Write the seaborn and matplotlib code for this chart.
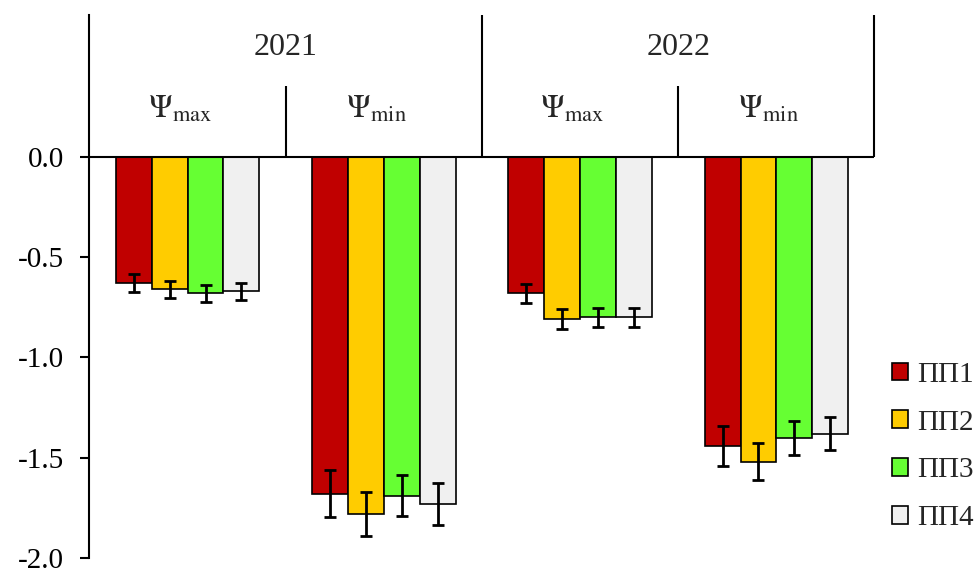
import matplotlib
matplotlib.use("Agg")
import matplotlib.pyplot as plt
from matplotlib.ticker import FormatStrFormatter
import numpy as np
import pandas as pd
import seaborn as sns

# Water potential by period (year x index) for four sample plots
periods = ["2021 max", "2021 min", "2022 max", "2022 min"]
years = ["2021", "2022"]
index_labels = [r"$\Psi_{\mathrm{max}}$", r"$\Psi_{\mathrm{min}}$"]
sites = ["ПП1", "ПП2", "ПП3", "ПП4"]

pp1 = [-0.63, -1.68, -0.68, -1.44]
pp2 = [-0.66, -1.78, -0.81, -1.52]
pp3 = [-0.68, -1.69, -0.80, -1.40]
pp4 = [-0.67, -1.73, -0.80, -1.38]

pp1_err = [0.045, 0.118, 0.048, 0.100]
pp2_err = [0.041, 0.108, 0.050, 0.092]
pp3_err = [0.043, 0.103, 0.048, 0.085]
pp4_err = [0.041, 0.105, 0.048, 0.082]

colors = ["#C00000", "#FFCC00", "#66FF33", "#F0F0F0"]

values = [pp1, pp2, pp3, pp4]
errors = [pp1_err, pp2_err, pp3_err, pp4_err]

df = pd.DataFrame({
    "period": [p for _ in sites for p in periods],
    "site": [s for s in sites for _ in periods],
    "value": [v for vals in values for v in vals],
})

sns.set_style("ticks")
plt.rcParams["font.family"] = ["Liberation Serif", "DejaVu Serif"]
plt.rcParams["mathtext.fontset"] = "stix"
plt.rcParams["axes.unicode_minus"] = False

fig = plt.figure(figsize=(9.78, 5.70), dpi=100)
ax = fig.add_axes([89.5 / 978, 12 / 570, (874.5 - 89.5) / 978, (558 - 15) / 570])

sns.barplot(
    data=df, x="period", y="value", hue="site", order=periods, hue_order=sites,
    palette=colors, saturation=1, width=0.73, edgecolor="black", linewidth=1.2,
    errorbar=None, ax=ax,
)

# error bars at the centres of the drawn bars
for cont, vals, errs in zip(ax.containers, values, errors):
    xs = [p.get_x() + p.get_width() / 2 for p in cont.patches]
    ax.errorbar(xs, vals, yerr=errs, fmt="none", ecolor="black",
                elinewidth=2.0, capsize=4.3, capthick=2.0, zorder=5)

ymax = 0.708
ax.set_xlim(-0.5, 3.5)
ax.set_ylim(-2.0, ymax)
ax.set_yticks([-2.0, -1.5, -1.0, -0.5, 0.0])
ax.yaxis.set_major_formatter(FormatStrFormatter("%.1f"))
ax.tick_params(axis="y", direction="out", length=6.5, width=1.5, pad=12,
               labelsize=21, colors="black")
ax.set_xticks([])
ax.set_xlabel("")
ax.set_ylabel("")

for side in ["top", "right", "bottom"]:
    ax.spines[side].set_visible(False)
ax.spines["left"].set_linewidth(1.5)
ax.spines["left"].set_color("black")

# zero line and header grid
ax.axhline(0, color="black", lw=1.5, zorder=6)
sub_top = 0.354
ax.vlines([0.5, 2.5], 0, sub_top, color="black", lw=1.5, clip_on=False)
ax.vlines([1.5, 3.5], 0, ymax, color="black", lw=1.5, clip_on=False)

for i, yr in enumerate(years):
    ax.text(0.5 + 2 * i, 0.544, yr, ha="center", va="center", fontsize=23)
for i in range(len(periods)):
    ax.text(i - 0.04, 0.195, index_labels[i % 2], ha="center", va="baseline",
            fontsize=23)

handles, labels = ax.get_legend_handles_labels()
ax.legend(handles, labels, loc="center left",
          bbox_to_anchor=(892 / 978, 1 - 446.5 / 570),
          bbox_transform=fig.transFigure, frameon=False, fontsize=21,
          handlelength=0.55, handleheight=0.55, handletextpad=0.3,
          labelspacing=0.75, borderpad=0, borderaxespad=0)

fig.savefig("out.png", dpi=100)
